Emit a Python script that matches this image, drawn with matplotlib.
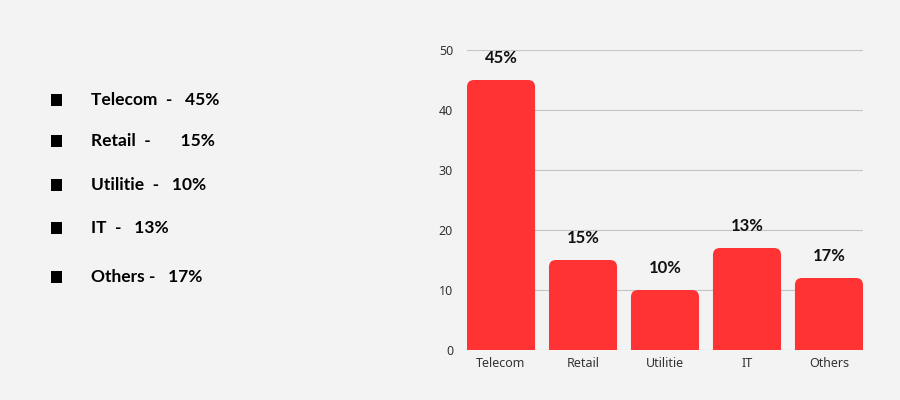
import matplotlib
matplotlib.use("Agg")
import matplotlib.pyplot as plt
from matplotlib.patches import FancyBboxPatch, Rectangle

categories = ["Telecom", "Retail", "Utilitie", "IT", "Others"]
bar_values = [45, 15, 10, 17, 12]
bar_labels = ["45%", "15%", "10%", "13%", "17%"]
legend_lines = ["Telecom  -   45%", "Retail  -       15%", "Utilitie  -   10%",
                "IT  -   13%", "Others -   17%"]
yticks = [0, 10, 20, 30, 40, 50]

BG = "#f3f3f3"
RED = "#ff3333"
BOLD_FONT = "Lato"

fig = plt.figure(figsize=(9, 4), dpi=100, facecolor=BG)
ax = fig.add_axes([467/900, 50/400, 396/900, 300/400], facecolor=BG)

x = list(range(len(categories)))
bars = ax.bar(x, bar_values, width=0.83, color=RED)
ax.set_xlim(-0.415, len(categories) - 1 + 0.415)
ax.set_ylim(0, 50)

# replace rectangles with rounded-top patches
xpx = 396 / (ax.get_xlim()[1] - ax.get_xlim()[0])
ypx = 300 / 50
r = 7 / xpx
for b in bars:
    b.set_visible(False)
    p = FancyBboxPatch((b.get_x(), -3), b.get_width(), b.get_height() + 3,
                       boxstyle=f"round,pad=0,rounding_size={r}",
                       mutation_aspect=xpx / ypx, facecolor=RED,
                       edgecolor="none", zorder=3, clip_on=True)
    ax.add_patch(p)

for xi, v, lab in zip(x, bar_values, bar_labels):
    ax.annotate(lab, (xi, v), xytext=(0, 16), textcoords="offset points",
                ha="center", va="center", fontsize=12, fontweight="bold",
                color="#111111", family=BOLD_FONT)

ax.set_yticks(yticks)
ax.set_xticks(x)
ax.set_xticklabels(categories)
ax.yaxis.grid(True, color="#c4c4c4", linewidth=0.8, zorder=0)
ax.set_axisbelow(True)
for s in ax.spines.values():
    s.set_visible(False)
ax.tick_params(axis="both", length=0, labelsize=9, labelcolor="#333333")
ax.tick_params(axis="y", pad=10)
ax.tick_params(axis="x", pad=5)
for t in ax.get_xticklabels() + ax.get_yticklabels():
    t.set_family("Noto Sans")

ys = [100, 141, 185, 228, 277]
for yp, line in zip(ys, legend_lines):
    fig.patches.append(Rectangle((51/900, 1 - (yp + 6)/400), 11/900, 12/400,
                                 transform=fig.transFigure, facecolor="black",
                                 edgecolor="none"))
    fig.text(91/900, 1 - yp/400, line, fontsize=12.5, va="center", ha="left",
             color="black", fontweight="bold", family=BOLD_FONT)

fig.savefig("out.png", dpi=100, facecolor=BG)
